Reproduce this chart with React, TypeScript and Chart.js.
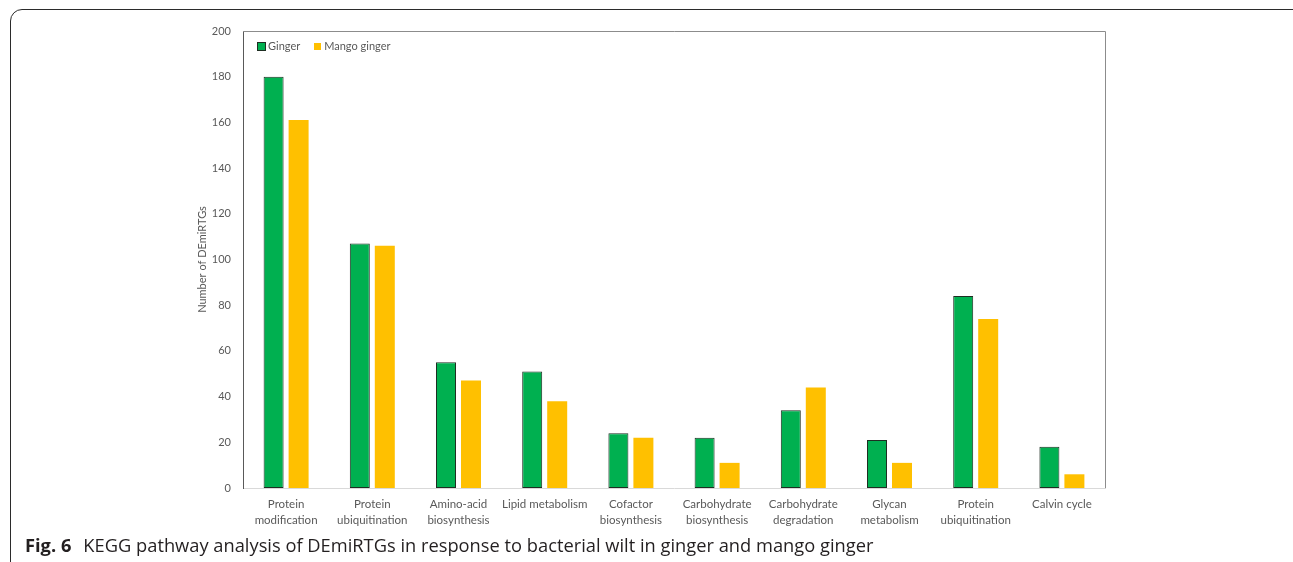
import React, { useEffect, useRef } from "react";
import { Chart, registerables } from "chart.js";

Chart.register(...registerables);

const categories: (string | string[])[] = [
  ["Protein", "modification"],
  ["Protein", "ubiquitination"],
  ["Amino-acid", "biosynthesis"],
  "Lipid metabolism",
  ["Cofactor", "biosynthesis"],
  ["Carbohydrate", "biosynthesis"],
  ["Carbohydrate", "degradation"],
  ["Glycan", "metabolism"],
  ["Protein", "ubiquitination"],
  "Calvin cycle",
];
const gingerValues = [180, 107, 55, 51, 24, 22, 34, 21, 84, 18];
const mangoGingerValues = [161, 106, 47, 38, 22, 11, 44, 11, 74, 6];
const seriesNames = ["Ginger", "Mango ginger"];
const yMin = 0;
const yMax = 200;
const yStep = 20;
const yTitle = "Number of DEmiRTGs";

const GREEN = "#00B050";
const YELLOW = "#FFC000";
const FONT = "Lato, 'Open Sans', sans-serif";
const TEXT = "#595959";

const framePlugin = {
  id: "frame",
  afterDraw(chart: any) {
    const { ctx, chartArea } = chart;
    const { left, top, right, bottom } = chartArea;
    ctx.save();
    ctx.strokeStyle = "#8c8c8c";
    ctx.lineWidth = 1;
    ctx.beginPath();
    ctx.moveTo(left, Math.round(top) + 0.5);
    ctx.lineTo(Math.round(right) + 0.5, Math.round(top) + 0.5);
    ctx.lineTo(Math.round(right) + 0.5, bottom);
    ctx.stroke();
    ctx.restore();
  },
};

export default function App() {
  const canvasRef = useRef<HTMLCanvasElement | null>(null);

  useEffect(() => {
    if (!canvasRef.current) return;
    const chart = new Chart(canvasRef.current, {
      type: "bar",
      data: {
        labels: categories,
        datasets: [
          {
            label: seriesNames[0],
            data: gingerValues,
            backgroundColor: GREEN,
            borderColor: "#1e2e22",
            borderWidth: 1,
            borderSkipped: false,
            categoryPercentage: 0.58,
            barPercentage: 0.8,
          },
          {
            label: seriesNames[1],
            data: mangoGingerValues,
            backgroundColor: YELLOW,
            borderWidth: 0,
            categoryPercentage: 0.58,
            barPercentage: 0.8,
          },
        ],
      },
      options: {
        animation: false,
        responsive: false,
        devicePixelRatio: 1,
        layout: { padding: { left: 183, right: 188, top: 31, bottom: 34 } },
        plugins: {
          legend: { display: false },
          tooltip: { enabled: false },
        },
        scales: {
          x: {
            grid: { display: false, drawTicks: false },
            border: { display: true, color: "#d9d9d9", width: 1 },
            ticks: {
              color: TEXT,
              font: { family: FONT, size: 11.5, lineHeight: 1.4 },
              padding: 8,
              maxRotation: 0,
              autoSkip: false,
            },
            afterFit(scale: any) {
              scale.height = 40;
            },
          },
          y: {
            min: yMin,
            max: yMax,
            grid: { display: false, drawTicks: false },
            border: { display: true, color: "#595959", width: 1 },
            ticks: {
              stepSize: yStep,
              color: TEXT,
              font: { family: FONT, size: 11 },
              padding: 12,
            },
            title: {
              display: true,
              text: yTitle,
              color: TEXT,
              font: { family: FONT, size: 11 },
              padding: { top: 13, bottom: 0 },
            },
            afterFit(scale: any) {
              scale.width = 60;
            },
          },
        },
      },
      plugins: [framePlugin],
    });
    return () => chart.destroy();
  }, []);

  return (
    <div style={{ position: "fixed", left: 0, top: 0, width: 1293, height: 562, background: "#fff", overflow: "hidden" }}>
      <div
        style={{
          position: "absolute",
          left: 10,
          top: 9,
          width: 1300,
          height: 580,
          border: "1.5px solid #2b2b2b",
          borderRadius: 12,
          boxSizing: "border-box",
        }}
      />
      <canvas ref={canvasRef} width={1293} height={562} style={{ position: "absolute", left: 0, top: 0 }} />
      <div
        style={{
          position: "absolute",
          left: 257,
          top: 38,
          display: "flex",
          alignItems: "center",
          fontFamily: FONT,
          fontSize: 11,
          color: TEXT,
          lineHeight: "16px",
        }}
      >
        <span style={{ display: "inline-block", width: 7, height: 7, background: GREEN, border: "1px solid #1e2e22", marginRight: 2 }} />
        <span>{seriesNames[0]}</span>
        <span style={{ display: "inline-block", width: 7, height: 7, background: YELLOW, marginLeft: 14, marginRight: 3 }} />
        <span>{seriesNames[1]}</span>
      </div>
      <div
        style={{
          position: "absolute",
          left: 25,
          top: 533,
          fontFamily: "'Open Sans', 'Noto Sans', sans-serif",
          fontSize: 18.3,
          color: "#231f20",
          whiteSpace: "nowrap",
          lineHeight: "24px",
        }}
      >
        <b>Fig. 6</b>
        <span style={{ marginLeft: 12 }}>KEGG pathway analysis of DEmiRTGs in response to bacterial wilt in ginger and mango ginger</span>
      </div>
    </div>
  );
}
